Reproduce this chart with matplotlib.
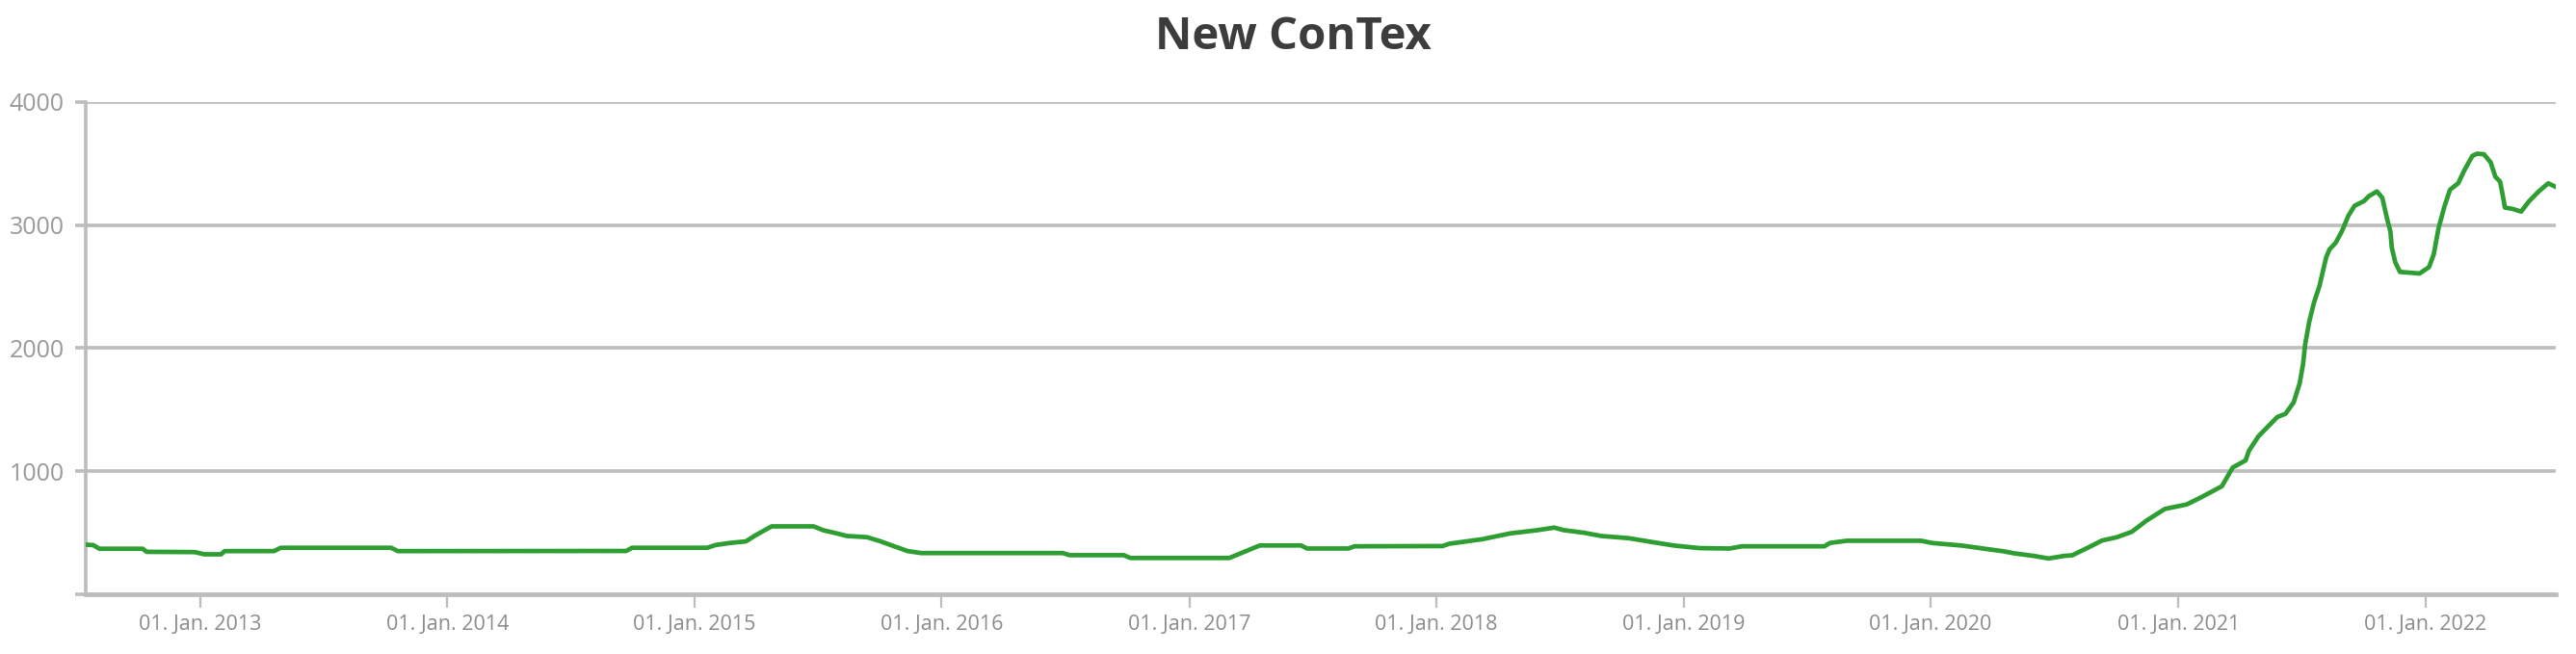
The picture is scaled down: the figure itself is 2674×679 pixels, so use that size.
import pandas as pd
import matplotlib
matplotlib.use("Agg")
import matplotlib.pyplot as plt
import matplotlib.dates as mdates

# --- data ---
TITLE = "New ConTex"

dates = [
    "2012-07-16", "2012-07-27", "2012-08-05", "2012-10-08", "2012-10-14", "2012-12-24",
    "2013-01-07", "2013-02-01", "2013-02-06", "2013-04-20", "2013-04-30", "2013-10-10",
    "2013-10-20", "2014-09-22", "2014-10-01", "2015-01-20", "2015-02-01", "2015-02-22",
    "2015-03-18", "2015-04-02", "2015-04-25", "2015-06-26", "2015-07-10", "2015-07-30",
    "2015-08-14", "2015-09-13", "2015-10-03", "2015-10-23", "2015-11-12", "2015-12-02",
    "2016-06-28", "2016-07-08", "2016-09-26", "2016-10-06", "2017-03-01", "2017-03-20",
    "2017-04-15", "2017-06-15", "2017-06-24", "2017-08-24", "2017-09-02", "2018-01-10",
    "2018-01-20", "2018-03-10", "2018-04-20", "2018-05-30", "2018-06-24", "2018-07-08",
    "2018-08-07", "2018-09-01", "2018-10-12", "2018-11-15", "2018-12-18", "2019-01-25",
    "2019-03-10", "2019-03-28", "2019-07-28", "2019-08-05", "2019-08-30", "2019-12-18",
    "2020-01-03", "2020-02-16", "2020-03-18", "2020-04-17", "2020-05-03", "2020-06-01",
    "2020-06-23", "2020-07-16", "2020-07-28", "2020-08-20", "2020-09-10", "2020-10-02",
    "2020-10-24", "2020-11-15", "2020-12-12", "2021-01-13", "2021-02-04", "2021-03-06",
    "2021-03-22", "2021-04-10", "2021-04-15", "2021-04-29", "2021-05-27", "2021-06-08",
    "2021-06-20", "2021-06-29", "2021-07-04", "2021-07-07", "2021-07-13", "2021-07-20",
    "2021-07-28", "2021-08-07", "2021-08-12", "2021-08-21", "2021-08-30", "2021-09-09",
    "2021-09-18", "2021-10-02", "2021-10-09", "2021-10-21", "2021-10-29", "2021-11-05",
    "2021-11-10", "2021-11-12", "2021-11-17", "2021-11-24", "2021-12-23", "2022-01-06",
    "2022-01-13", "2022-01-20", "2022-01-29", "2022-02-06", "2022-02-18", "2022-02-27",
    "2022-03-11", "2022-03-18", "2022-03-28", "2022-04-07", "2022-04-14", "2022-04-21",
    "2022-04-26", "2022-04-28", "2022-05-10", "2022-05-22", "2022-06-03", "2022-06-17",
    "2022-07-01", "2022-07-11",
]

values = [
    403, 400, 370, 370, 345, 343,
    325, 325, 351, 351, 378, 378,
    351, 352, 378, 378, 400, 417,
    430, 482, 552, 552, 521, 495,
    474, 464, 430, 390, 351, 335,
    335, 318, 318, 295, 295, 338,
    397, 397, 372, 372, 390, 392,
    411, 448, 495, 521, 542, 521,
    500, 474, 456, 425, 396, 375,
    372, 390, 390, 417, 435, 435,
    417, 396, 372, 350, 333, 312,
    291, 312, 317, 378, 437, 464,
    508, 600, 694, 730, 790, 878,
    1030, 1088, 1166, 1284, 1441, 1467,
    1559, 1716, 1873, 2030, 2214, 2370,
    2502, 2737, 2803, 2856, 2947, 3078,
    3157, 3196, 3235, 3274, 3222, 3052,
    2947, 2817, 2700, 2620, 2607, 2659,
    2764, 2974, 3157, 3288, 3340, 3444,
    3563, 3581, 3576, 3510, 3393, 3353,
    3209, 3143, 3131, 3110, 3196, 3274,
    3340, 3314,
]

y_ticks = [0, 1000, 2000, 3000, 4000]
y_tick_labels = ["", "1000", "2000", "3000", "4000"]

# --- styling ---
LINE_COLOR = "#2e9e32"
GRID_COLOR = "#bdbdbd"
LABEL_COLOR = "#9a9a9a"
TITLE_COLOR = "#3c3c3c"
FONT = ["Open Sans", "DejaVu Sans"]

x = pd.to_datetime(dates)

fig = plt.figure(figsize=(26.74, 6.79), dpi=100)
ax = fig.add_axes([0.0333, 0.0913, 0.9588, 0.7526])

ax.plot(x, values, color=LINE_COLOR, linewidth=3.4, solid_joinstyle="round", zorder=3)

ax.set_xlim(pd.Timestamp("2012-07-16"), pd.Timestamp("2022-07-12"))
ax.set_ylim(0, 4000)

# horizontal grid
ax.set_yticks(y_ticks)
ax.set_yticklabels(y_tick_labels)
ax.yaxis.grid(True, color=GRID_COLOR, linewidth=2.6, zorder=1)
ax.xaxis.grid(False)

# x axis: yearly ticks
ax.xaxis.set_major_locator(mdates.YearLocator())
ax.xaxis.set_major_formatter(mdates.DateFormatter("%d. %b. %Y"))

for side in ("top", "right"):
    ax.spines[side].set_visible(False)
ax.spines["left"].set_color(GRID_COLOR)
ax.spines["left"].set_linewidth(2.6)
ax.spines["bottom"].set_color(GRID_COLOR)
ax.spines["bottom"].set_linewidth(3.4)

ax.tick_params(axis="y", length=8, width=2.6, color=GRID_COLOR, pad=8,
               labelsize=18, labelcolor=LABEL_COLOR)
ax.tick_params(axis="x", length=10, width=1.6, color=GRID_COLOR, pad=5,
               labelsize=15.5, labelcolor="#8c8c8c")
for lbl in ax.get_xticklabels() + ax.get_yticklabels():
    lbl.set_family(FONT)

fig.text(0.502, 0.943, TITLE, ha="center", va="center", fontsize=34,
         fontweight="bold", color=TITLE_COLOR, family=FONT)

fig.savefig("out.png", dpi=100, facecolor="white")
plt.close(fig)
